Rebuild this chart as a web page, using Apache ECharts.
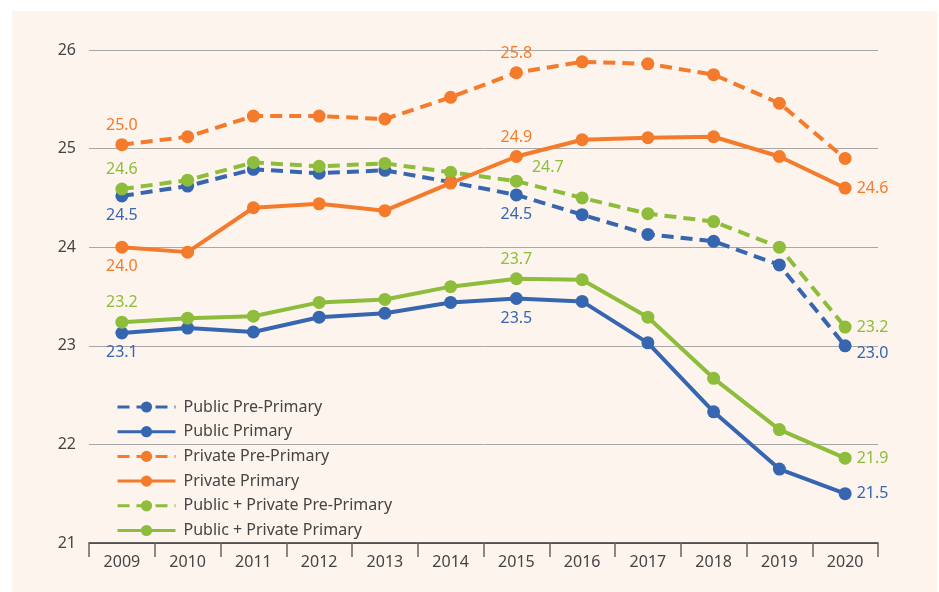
<!DOCTYPE html>
<html lang="en">
<head>
    <meta charset="UTF-8">
    <title>Class size</title>
    <script src="https://cdn.jsdelivr.net/npm/echarts@6/dist/echarts.min.js"></script>
    <style>
        html, body { margin: 0; padding: 0; background: #fff; }
        #panel { position: absolute; left: 12px; top: 11px; width: 925px; height: 581px; background: #fdf4ee; }
        #main { position: absolute; left: 0; top: 0; width: 939px; height: 592px; }
    </style>
</head>
<body>
<div id="panel"></div>
<div id="main"></div>
<script>
    var years = ['2009','2010','2011','2012','2013','2014','2015','2016','2017','2018','2019','2020'];

    var publicPre      = [24.52, 24.62, 24.79, 24.75, 24.78, 24.66, 24.53, 24.33, 24.13, 24.06, 23.82, 23.00];
    var publicPrim     = [23.13, 23.18, 23.14, 23.29, 23.33, 23.44, 23.48, 23.45, 23.03, 22.33, 21.75, 21.50];
    var privatePre     = [25.04, 25.12, 25.33, 25.33, 25.30, 25.52, 25.77, 25.88, 25.86, 25.75, 25.46, 24.90];
    var privatePrim    = [24.00, 23.95, 24.40, 24.44, 24.37, 24.65, 24.92, 25.09, 25.11, 25.12, 24.92, 24.60];
    var bothPre        = [24.59, 24.68, 24.86, 24.82, 24.85, 24.76, 24.67, 24.50, 24.34, 24.26, 24.00, 23.19];
    var bothPrim       = [23.24, 23.28, 23.30, 23.44, 23.47, 23.60, 23.68, 23.67, 23.29, 22.67, 22.15, 21.86];

    var BLUE = '#3766b1', ORANGE = '#f47b2b', GREEN = '#8dbd3a';

    // value labels: index -> [position, offset]
    var seriesDefs = [
        {name: 'Public Pre-Primary', data: publicPre, color: BLUE, dash: true,
         labels: {0: ['bottom', [0, 0]], 6: ['bottom', [0, 0]], 11: ['right', [0, 8]]}},
        {name: 'Public Primary', data: publicPrim, color: BLUE, dash: false,
         labels: {0: ['bottom', [0, 0]], 6: ['bottom', [0, 0]], 11: ['right', [0, 0]]}},
        {name: 'Private Pre-Primary', data: privatePre, color: ORANGE, dash: true,
         labels: {0: ['top', [0, 0]], 6: ['top', [0, 0]]}},
        {name: 'Private Primary', data: privatePrim, color: ORANGE, dash: false,
         labels: {0: ['bottom', [0, 0]], 6: ['top', [0, 0]], 11: ['right', [0, 0]]}},
        {name: 'Public + Private Pre-Primary', data: bothPre, color: GREEN, dash: true,
         labels: {0: ['top', [0, 0]], 6: ['right', [4, -14]], 11: ['right', [0, 0]]}},
        {name: 'Public + Private Primary', data: bothPrim, color: GREEN, dash: false,
         labels: {0: ['top', [0, 0]], 6: ['top', [0, 0]], 11: ['right', [0, 0]]}}
    ];

    var series = seriesDefs.map(function (s) {
        var pts = s.data.map(function (v, i) {
            var p = s.labels[i];
            if (!p) return v;
            return {
                value: v,
                label: {
                    show: true, position: p[0], offset: p[1], distance: 5,
                    color: s.color, fontSize: 16, fontFamily: 'Noto Sans',
                    formatter: function (d) { return d.value.toFixed(1); }
                }
            };
        });
        return {
            name: s.name,
            type: 'line',
            data: pts,
            symbol: 'circle',
            symbolSize: 13,
            color: s.color,
            lineStyle: { width: 4, type: s.dash ? [12, 7] : 'solid', color: s.color },
            itemStyle: { color: s.color },
            emphasis: { disabled: true },
            z: s.dash ? 2 : 3
        };
    });

    var myChart = echarts.init(document.getElementById('main'));
    var option = {
        animation: false,
        textStyle: { fontFamily: 'Noto Sans' },
        grid: { left: 89, right: 61, top: 50, bottom: 49 },
        legend: {
            orient: 'vertical',
            left: 116,
            top: 399,
            padding: 0,
            itemWidth: 58,
            itemHeight: 14,
            itemGap: 8.7,
            lineStyle: { width: 3 },
            textStyle: { fontSize: 16, lineHeight: 16, color: '#444', fontFamily: 'Noto Sans', padding: [0, 0, 0, 3] },
            data: seriesDefs.map(function (s) { return s.name; })
        },
        xAxis: {
            type: 'category',
            data: years,
            boundaryGap: true,
            axisLine: { lineStyle: { color: '#333', width: 1.5 } },
            axisTick: { show: true, length: 14, lineStyle: { color: '#666', width: 1.5 } },
            axisLabel: { color: '#444', fontSize: 16, margin: 11 }
        },
        yAxis: {
            type: 'value',
            min: 21, max: 26, interval: 1,
            axisLine: { show: false },
            axisTick: { show: false },
            axisLabel: { color: '#444', fontSize: 16, margin: 13 },
            splitLine: { lineStyle: { color: '#a8a8a8', width: 1 } }
        },
        series: series
    };
    myChart.setOption(option);
</script>
</body>
</html>
